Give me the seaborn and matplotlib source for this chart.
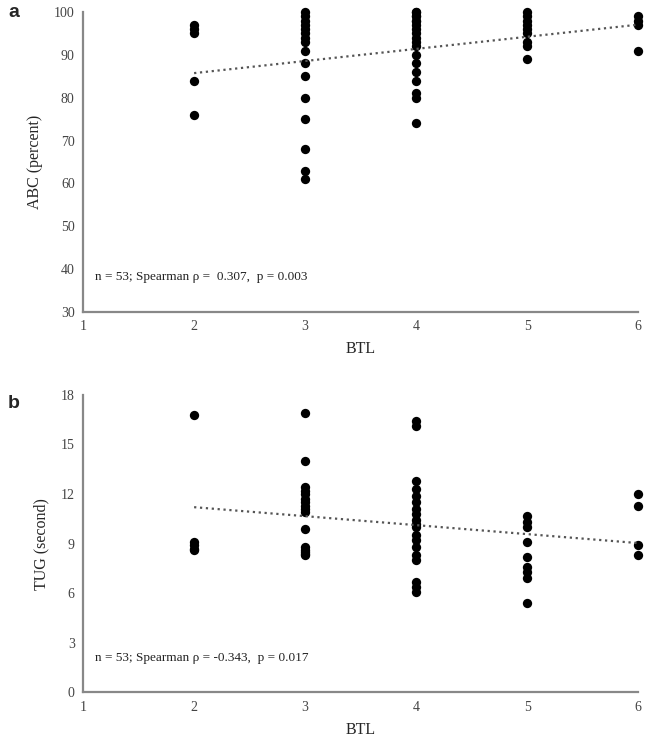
import numpy as np
import pandas as pd
import matplotlib
matplotlib.use('Agg')
import matplotlib.pyplot as plt
import seaborn as sns

# BTL levels and group sizes (n = 53)
btl_levels = [2, 3, 4, 5, 6]
group_sizes = [5, 16, 19, 9, 4]

# ABC (percent) per BTL level
abc_btl2 = [97, 96, 95, 84, 76]
abc_btl3 = [100, 99, 98, 97, 96, 95, 94, 93, 91, 88, 85, 80, 75, 68, 63, 61]
abc_btl4 = [100, 100, 99, 99, 98, 98, 97, 96, 95, 94, 93, 92, 90, 88, 86, 84,
            81, 80, 74]
abc_btl5 = [100, 99, 98, 97, 96, 95, 93, 92, 89]
abc_btl6 = [99, 98, 97, 91]

# TUG (second) per BTL level
tug_btl2 = [16.8, 9.1, 8.9, 8.7, 8.6]
tug_btl3 = [16.9, 14.0, 12.4, 12.2, 12.0, 11.7, 11.5, 11.3, 11.1, 10.9, 9.9,
            8.8, 8.6, 8.5, 8.4, 8.3]
tug_btl4 = [16.4, 16.1, 12.8, 12.3, 11.9, 11.5, 11.1, 10.8, 10.4, 10.2, 10.0,
            9.5, 9.2, 8.8, 8.3, 8.0, 6.7, 6.4, 6.1]
tug_btl5 = [10.7, 10.3, 10.0, 9.1, 8.2, 7.6, 7.3, 6.9, 5.4]
tug_btl6 = [12.0, 11.3, 8.9, 8.3]

abc_text = 'n = 53; Spearman \u03c1 =  0.307,  p = 0.003'
tug_text = 'n = 53; Spearman \u03c1 = -0.343,  p = 0.017'

btl = np.repeat(btl_levels, group_sizes)
df = pd.DataFrame({
    'BTL': btl,
    'ABC': abc_btl2 + abc_btl3 + abc_btl4 + abc_btl5 + abc_btl6,
    'TUG': tug_btl2 + tug_btl3 + tug_btl4 + tug_btl5 + tug_btl6,
})

sns.set_style('white')
plt.rcParams['font.family'] = ['Liberation Serif', 'DejaVu Serif']

fig = plt.figure(figsize=(6.54, 7.55), dpi=100)
ax1 = fig.add_axes([0.127, 0.587, 0.849, 0.397])
ax2 = fig.add_axes([0.127, 0.083, 0.849, 0.394])

panels = [
    (ax1, 'ABC', 'ABC (percent)', (30, 100), np.arange(30, 101, 10), abc_text, 'a', 1.0),
    (ax2, 'TUG', 'TUG (second)', (0, 18), np.arange(0, 19, 3), tug_text, 'b', 0.97),
]

for ax, col, ylabel, ylim, yticks, txt, letter, ly in panels:
    sns.regplot(data=df, x='BTL', y=col, ax=ax, ci=None, truncate=True,
                scatter_kws={'s': 45, 'color': 'black', 'alpha': 1,
                             'clip_on': False, 'linewidths': 0},
                line_kws={'color': '#555555', 'linestyle': ':', 'linewidth': 1.6})
    ax.set_xlim(1, 6)
    ax.set_ylim(*ylim)
    ax.set_xticks(range(1, 7))
    ax.set_yticks(yticks)
    ax.tick_params(axis='both', length=0, labelsize=10, labelcolor='#444444', pad=6)
    ax.set_xlabel('BTL', fontsize=11.5, labelpad=6)
    ax.set_ylabel(ylabel, fontsize=11.5, labelpad=8)
    for s in ['top', 'right']:
        ax.spines[s].set_visible(False)
    for s in ['left', 'bottom']:
        ax.spines[s].set_color('#888888')
        ax.spines[s].set_linewidth(1.6)
    ax.text(0.022, 0.105, txt, transform=ax.transAxes, fontsize=9.5, color='#222222')
    ax.text(-0.135, ly, letter, transform=ax.transAxes, fontsize=14,
            fontweight='bold', family='Liberation Sans', va='center')

fig.savefig('out.png', dpi=100)
